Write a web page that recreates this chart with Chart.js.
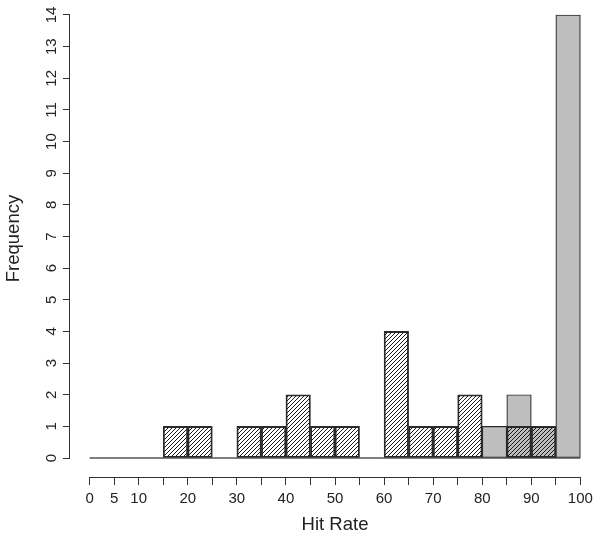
<!DOCTYPE html>
<html>
<head>
<meta charset="utf-8">
<script src="https://cdn.jsdelivr.net/npm/chart.js@4.4.0/dist/chart.umd.min.js"></script>
<style>
  html, body { margin: 0; padding: 0; background: #fff; }
</style>
</head>
<body>
<canvas id="histograma" width="600" height="540"></canvas>
<script>
// limites de las clases del histograma (ancho 5)
var binEdges = [0, 5, 10, 15, 20, 25, 30, 35, 40, 45, 50, 55, 60, 65, 70, 75, 80, 85, 90, 95, 100];
// frecuencias por clase, serie rayada y serie gris
var hatchedCounts = [0, 0, 0, 1, 1, 0, 1, 1, 2, 1, 1, 0, 4, 1, 1, 2, 0, 1, 1, 0];
var grayCounts    = [0, 0, 0, 0, 0, 0, 0, 0, 0, 0, 0, 0, 0, 0, 0, 0, 1, 2, 1, 14];
// marcas de los ejes
var yTicks = [0, 1, 2, 3, 4, 5, 6, 7, 8, 9, 10, 11, 12, 13, 14];
var xTicks = [0, 5, 10, 15, 20, 25, 30, 35, 40, 45, 50, 55, 60, 65, 70, 75, 80, 85, 90, 95, 100];
var xLabels = [0, 5, 10, 20, 30, 40, 50, 60, 70, 80, 90, 100];

//Patron de rayas diagonales para la serie rayada
function crearRayado(){
    var c = document.createElement('canvas');
    c.width = 4; c.height = 4;
    var g = c.getContext('2d');
    g.strokeStyle = '#1a1a1a';
    g.lineWidth = 1;
    g.beginPath();
    g.moveTo(0, 4); g.lineTo(4, 0);
    g.moveTo(-1, 1); g.lineTo(1, -1);
    g.moveTo(3, 5); g.lineTo(5, 3);
    g.stroke();
    return g.createPattern(c, 'repeat');
}

function puntos(counts){
    var out = [];
    for(var i=0; i<counts.length; i++){
        out.push({x: (binEdges[i] + binEdges[i+1]) / 2, y: counts[i]});
    }
    return out;
}

//Lineas de los ejes al estilo R (solo cubren el rango de las marcas)
var ejesR = {
    id: 'ejesR',
    afterDraw: function(chart){
        var c2 = chart.ctx, sx = chart.scales.x, sy = chart.scales.y;
        var xl = Math.round(sy.right) - 0.5;
        var yb = Math.round(sx.top) + 0.5;
        c2.save();
        c2.strokeStyle = '#333';
        c2.lineWidth = 1;
        c2.beginPath();
        c2.moveTo(xl, sy.getPixelForValue(yTicks[0]));
        c2.lineTo(xl, sy.getPixelForValue(yTicks[yTicks.length-1]));
        c2.stroke();
        c2.beginPath();
        c2.moveTo(sx.getPixelForValue(xTicks[0]), yb);
        c2.lineTo(sx.getPixelForValue(xTicks[xTicks.length-1]), yb);
        c2.stroke();
        c2.restore();
    }
};

var fuente = 'Liberation Sans, Arial, Helvetica, sans-serif';

var lienzo = document.getElementById('histograma');
var myChart = new Chart(lienzo, {
    type: 'bar',
    data: {
        datasets: [{
            label: 'Rayada',
            data: puntos(hatchedCounts),
            backgroundColor: crearRayado(),
            borderColor: '#2b2b2b',
            borderWidth: 1.2,
            borderSkipped: false,
            grouped: false,
            barPercentage: 1,
            categoryPercentage: 1,
            clip: false,
            order: 0
        }, {
            label: 'Gris',
            data: puntos(grayCounts),
            backgroundColor: '#bebebe',
            borderColor: '#2b2b2b',
            borderWidth: 1.2,
            borderSkipped: false,
            grouped: false,
            barPercentage: 1,
            categoryPercentage: 1,
            clip: false,
            order: 1
        }, {
            type: 'line',
            label: 'Base',
            data: [{x: binEdges[0], y: 0}, {x: binEdges[binEdges.length-1], y: 0}],
            borderColor: '#555',
            borderWidth: 1.5,
            pointRadius: 0,
            order: 2
        }]
    },
    options: {
        responsive: false,
        animation: false,
        layout: { padding: 0 },
        plugins: { legend: { display: false }, tooltip: { enabled: false } },
        scales: {
            x: {
                type: 'linear',
                position: 'bottom',
                offset: false,
                min: -4,
                max: 104,
                border: { display: false },
                grid: { offset: false, drawOnChartArea: false, drawTicks: true, tickLength: 8, color: '#333' },
                ticks: {
                    autoSkip: false,
                    maxRotation: 0,
                    padding: 5,
                    color: '#222',
                    font: { family: fuente, size: 15 },
                    callback: function(v){ return xLabels.indexOf(v) >= 0 ? String(v) : ''; }
                },
                title: {
                    display: true,
                    text: 'Hit Rate',
                    color: '#222',
                    font: { family: fuente, size: 18.5 },
                    padding: { top: 0, bottom: 4 }
                },
                afterBuildTicks: function(s){ s.ticks = xTicks.map(function(v){ return {value: v}; }); },
                afterFit: function(s){ s.height = 63; s.paddingLeft = 0; s.paddingRight = 0; }
            },
            y: {
                type: 'linear',
                min: -0.6,
                max: 14.474,
                border: { display: false },
                grid: { drawOnChartArea: false, drawTicks: true, tickLength: 7, color: '#333' },
                ticks: {
                    autoSkip: false,
                    minRotation: 90,
                    maxRotation: 90,
                    crossAlign: 'center',
                    padding: 3,
                    color: '#222',
                    font: { family: fuente, size: 15 }
                },
                title: {
                    display: true,
                    text: 'Frequency',
                    color: '#222',
                    font: { family: fuente, size: 18.5 },
                    padding: { top: 3, bottom: 0 }
                },
                afterBuildTicks: function(s){ s.ticks = yTicks.map(function(v){ return {value: v}; }); },
                afterFit: function(s){ s.width = 70; s.paddingTop = 0; s.paddingBottom = 0; }
            }
        }
    },
    plugins: [ejesR]
});
</script>
</body>
</html>
